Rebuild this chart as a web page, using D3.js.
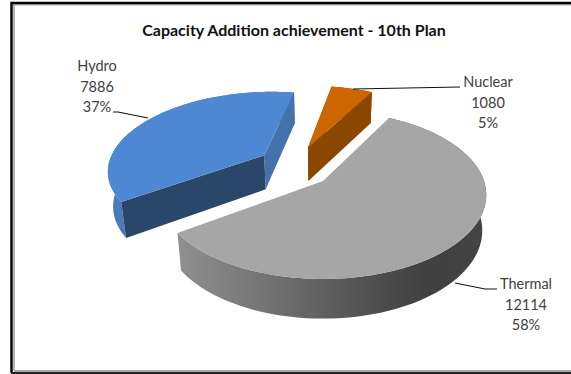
<!DOCTYPE html>
<html><head><meta charset="utf-8">
<script src="https://cdn.jsdelivr.net/npm/d3@7"></script>
<style>html,body{margin:0;padding:0;background:#fff}svg{display:block}</style>
</head><body>
<svg id="chart" width="571" height="374"></svg>
<script>
// Capacity addition by source, in MW
const categories = ["Thermal", "Hydro", "Nuclear"];
const capacity = [12114, 7886, 1080];
const shareLabels = ["58%", "37%", "5%"];
const chartTitle = "Capacity Addition achievement - 10th Plan";

const topColors = ["#a6a6a6", "#4f88d2", "#cc6600"];
const startFaceColors = ["#8a8a8a", "#2a4669", "#8b4700"];
const endFaceColors = ["#8a8a8a", "#4472aa", "#8b4700"];
const wallColors = [null, "#4a7aba", "#8b4700"];

// Exploded offset of each slice on the tilted disc, in disc radii
const explodeX = [0, -0.385, -0.10];
const explodeY = [0, -0.33, -0.44];

const svg = d3.select("#chart");
const toRad = Math.PI / 180;

// Perspective view of the unit disc: y grows toward the viewer, z is depth below the top face
const originX = 323, originY = 181;
const R = 161, S = 81.8, K = 0.165, DEPTH = 36;
function project(x, y, z) {
  const d = (1 - K * y) * (1 + 0.025 * z);
  return [originX + R * x / d, originY + (S * y + DEPTH * z) / d];
}

const pie = d3.pie().sort(null).startAngle(28 * toRad).endAngle(388 * toRad);
const arcs = pie(capacity);
const line = d3.line();

function rim(i, z, from, to) {
  const n = Math.max(2, Math.ceil((to - from) / (2 * toRad)));
  return d3.range(n + 1).map(k => {
    const t = from + (to - from) * k / n;
    return project(explodeX[i] + Math.sin(t), explodeY[i] - Math.cos(t), z);
  });
}
const apex = (i, z) => project(explodeX[i], explodeY[i], z);

// Gradient along the outer wall of the largest slice
const wallX = d3.scaleLinear().domain([0, 1]).range([180, 487]);
const grad = svg.append("defs").append("linearGradient")
  .attr("id", "wall").attr("gradientUnits", "userSpaceOnUse")
  .attr("x1", wallX(0)).attr("x2", wallX(1)).attr("y1", 0).attr("y2", 0);
[[0, "#8f8f8f"], [0.35, "#6c6c6c"], [0.6, "#525252"], [0.8, "#404040"], [1, "#444444"]]
  .forEach(([o, c]) => grad.append("stop").attr("offset", o).attr("stop-color", c));

// Far slices are painted first so the large slice overlaps them
const g = svg.append("g");
[1, 2, 0].forEach(i => {
  const a = arcs[i];
  const slice = g.append("g").attr("class", categories[i]);
  const wall = rim(i, 0, a.startAngle, a.endAngle)
    .concat(rim(i, 1, a.startAngle, a.endAngle).reverse());
  slice.append("path").attr("d", line(wall) + "Z")
    .attr("fill", i === 0 ? "url(#wall)" : wallColors[i]);
  if (i !== 0) {
    const face = (t, c) => {
      const o0 = rim(i, 0, t, t)[0], o1 = rim(i, 1, t, t)[0];
      slice.append("path").attr("fill", c)
        .attr("d", line([apex(i, 0), o0, o1, apex(i, 1)]) + "Z");
    };
    face(a.endAngle, endFaceColors[i]);
    face(a.startAngle, startFaceColors[i]);
  }
  const top = [apex(i, 0)].concat(rim(i, 0, a.startAngle, a.endAngle));
  slice.append("path").attr("d", line(top) + "Z").attr("fill", topColors[i]);
});

// Chart frame: dark outer rule with a lighter inner rule
const frame = svg.append("g").attr("fill", "none");
frame.append("path").attr("d", "M14,370.5V4.5H571").attr("stroke", "#b4b4b4").attr("stroke-width", 2);
frame.append("path").attr("d", "M14,371H571").attr("stroke", "#a8a8a8").attr("stroke-width", 2);
frame.append("path").attr("d", "M11.5,373V3H571").attr("stroke", "#000").attr("stroke-width", 2.4);
frame.append("path").attr("d", "M11,373H571").attr("stroke", "#222").attr("stroke-width", 2);

// Title
svg.append("text").attr("x", 294).attr("y", 36).attr("text-anchor", "middle")
  .attr("font-family", "Lato").attr("font-weight", 700).attr("font-size", 16)
  .attr("fill", "#111").text(chartTitle);

// Leader lines
const leaders = [
  [[455, 283], [485, 289], [497, 289]],
  [[113, 112], [118, 112], [148, 118]],
  [[353, 89], [460, 87]]
];
svg.append("g").selectAll("path").data(leaders).join("path")
  .attr("d", d => line(d)).attr("fill", "none").attr("stroke", "#111").attr("stroke-width", 1.2);

// Data labels: name, value and share on three lines
const labelAnchors = [[526, 289], [97, 71], [488, 87]];
const labels = svg.append("g").attr("font-family", "Lato").attr("font-size", 14.5)
  .attr("fill", "#404040").attr("text-anchor", "middle");
categories.forEach((c, i) => {
  [c, capacity[i], shareLabels[i]].forEach((s, k) => {
    labels.append("text").attr("x", labelAnchors[i][0]).attr("y", labelAnchors[i][1] + k * 20.7).text(s);
  });
});
</script>
</body></html>
